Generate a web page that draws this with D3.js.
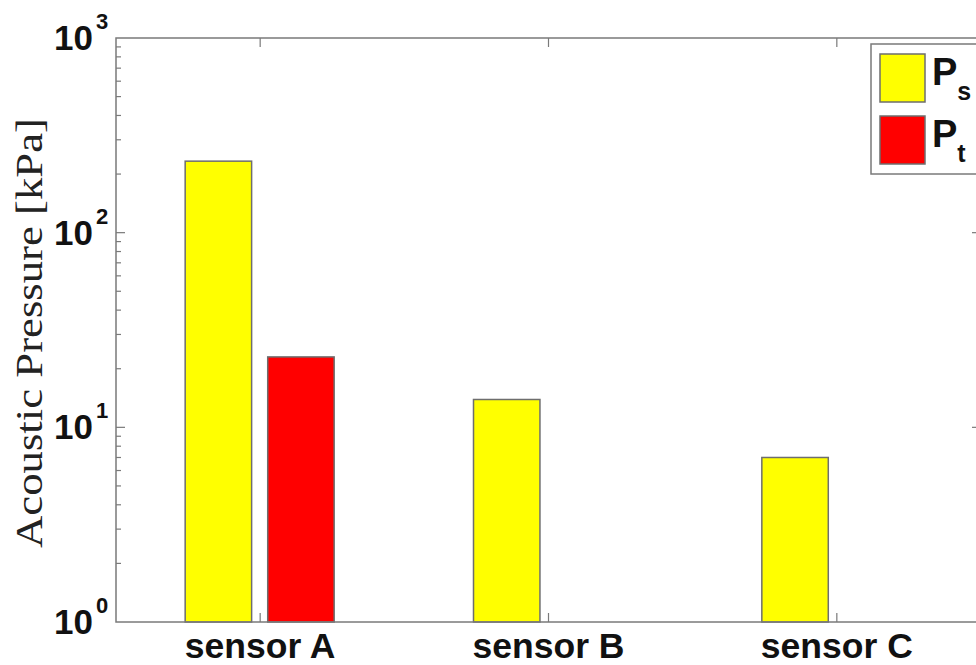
<!DOCTYPE html>
<html>
<head>
<meta charset="utf-8">
<script src="https://cdn.jsdelivr.net/npm/d3@7"></script>
<style>
  html, body { margin: 0; padding: 0; background: #fff; }
  svg { display: block; }
</style>
</head>
<body>
<svg id="chart" width="976" height="665"></svg>
<script>
// ---- data ----
const categories = ["sensor A", "sensor B", "sensor C"];
const seriesNames = ["Ps", "Pt"];
const seriesLabels = [["P", "s"], ["P", "t"]];
const seriesColors = ["#ffff00", "#ff0000"];
const valuesPs = [233, 13.9, 7.0];
const valuesPt = [23.0, null, null];
const yTickExponents = [0, 1, 2, 3];
const yLabel = "Acoustic Pressure [kPa]";

const seriesValues = [valuesPs, valuesPt];

(function () {
// ---- layout ----
const mLeft = 116, mRight = 981, mTop = 38, mBottom = 622;
const axisColor = "#7a7a7a";

const svg = d3.select("#chart");

const y = d3.scaleLog().domain([1, 1000]).range([mBottom, mTop]);
const x = d3.scaleBand().domain(categories).range([mLeft, mRight]).paddingInner(0).paddingOuter(0);
const xs = d3.scaleBand().domain(seriesNames).range([-75, 74]).paddingInner(0.195).paddingOuter(0);

// ---- bars ----
const barData = [];
categories.forEach((c, i) => {
  seriesNames.forEach((s, j) => {
    const v = seriesValues[j][i];
    if (v != null && v > 0) barData.push({ c, s, v, color: seriesColors[j] });
  });
});

svg.append("g").selectAll("rect").data(barData).join("rect")
  .attr("x", d => x(d.c) + x.bandwidth() / 2 + xs(d.s))
  .attr("width", xs.bandwidth())
  .attr("y", d => y(d.v))
  .attr("height", d => y(1) - y(d.v))
  .attr("fill", d => d.color)
  .attr("stroke", "#6e6e6e")
  .attr("stroke-width", 1.5);

// ---- axes ----
const ax = svg.append("g").attr("stroke", axisColor).attr("stroke-width", 1.5).attr("fill", "none");
ax.append("rect").attr("x", mLeft).attr("y", mTop).attr("width", mRight - mLeft).attr("height", mBottom - mTop);

const majorTicks = yTickExponents.map(e => Math.pow(10, e));
const minorTicks = [];
for (let e = 0; e < 3; e++) for (let m = 2; m <= 9; m++) minorTicks.push(m * Math.pow(10, e));

const tickG = svg.append("g").attr("stroke", axisColor).attr("stroke-width", 1.2);
[[mLeft, 1], [mRight, -1]].forEach(([x0, dir]) => {
  tickG.append("g").selectAll("line").data(majorTicks.slice(1, -1)).join("line")
    .attr("x1", x0).attr("x2", x0 + dir * 9)
    .attr("y1", d => y(d)).attr("y2", d => y(d));
  tickG.append("g").selectAll("line").data(minorTicks).join("line")
    .attr("x1", x0).attr("x2", x0 + dir * 5)
    .attr("y1", d => y(d)).attr("y2", d => y(d));
});

tickG.append("g").selectAll("line").data(categories).join("line")
  .attr("x1", d => x(d) + x.bandwidth() / 2).attr("x2", d => x(d) + x.bandwidth() / 2)
  .attr("y1", mBottom).attr("y2", mBottom - 9);
tickG.append("g").selectAll("line").data(categories).join("line")
  .attr("x1", d => x(d) + x.bandwidth() / 2).attr("x2", d => x(d) + x.bandwidth() / 2)
  .attr("y1", mTop).attr("y2", mTop + 9);

// y tick labels: 10^e
const font = "'Liberation Sans', Arial, sans-serif";
const yl = svg.append("g").attr("font-family", font).attr("font-weight", "bold").attr("fill", "#111");
yTickExponents.forEach(e => {
  yl.append("text")
    .attr("x", 93).attr("y", y(Math.pow(10, e)) + 12)
    .attr("text-anchor", "end").attr("font-size", 35).text("10");
  yl.append("text")
    .attr("x", 96).attr("y", y(Math.pow(10, e)) - 9)
    .attr("font-size", 22).text(String(e));
});

// x tick labels
svg.append("g").selectAll("text").data(categories).join("text")
  .attr("x", d => x(d) + x.bandwidth() / 2)
  .attr("y", 658)
  .attr("text-anchor", "middle")
  .attr("font-family", font).attr("font-weight", "bold").attr("font-size", 35.5)
  .attr("fill", "#111")
  .text(d => d);

// y axis label
svg.append("text")
  .attr("transform", `translate(42, ${(118 + 548) / 2}) rotate(-90)`)
  .attr("text-anchor", "middle")
  .attr("font-family", "'Liberation Serif', 'DejaVu Serif', serif")
  .attr("font-size", 37)
  .attr("fill", "#222")
  .attr("textLength", 430)
  .attr("lengthAdjust", "spacingAndGlyphs")
  .text(yLabel);

// ---- legend ----
const lg = svg.append("g");
lg.append("rect").attr("x", 871).attr("y", 44).attr("width", 130).attr("height", 130)
  .attr("fill", "#fff").attr("stroke", axisColor).attr("stroke-width", 1.5);
seriesNames.forEach((s, j) => {
  const yy = 54 + j * 62;
  lg.append("rect").attr("x", 880).attr("y", yy).attr("width", 45).attr("height", 48)
    .attr("fill", seriesColors[j]).attr("stroke", "#6e6e6e").attr("stroke-width", 1.5);
  const t = lg.append("text").attr("x", 932).attr("y", yy + 31)
    .attr("font-family", font).attr("font-weight", "bold").attr("font-size", 38).attr("fill", "#111");
  t.append("tspan").text(seriesLabels[j][0]);
  t.append("tspan").attr("font-size", 25).attr("dy", 15).text(seriesLabels[j][1]);
});
})();
</script>
</body>
</html>
